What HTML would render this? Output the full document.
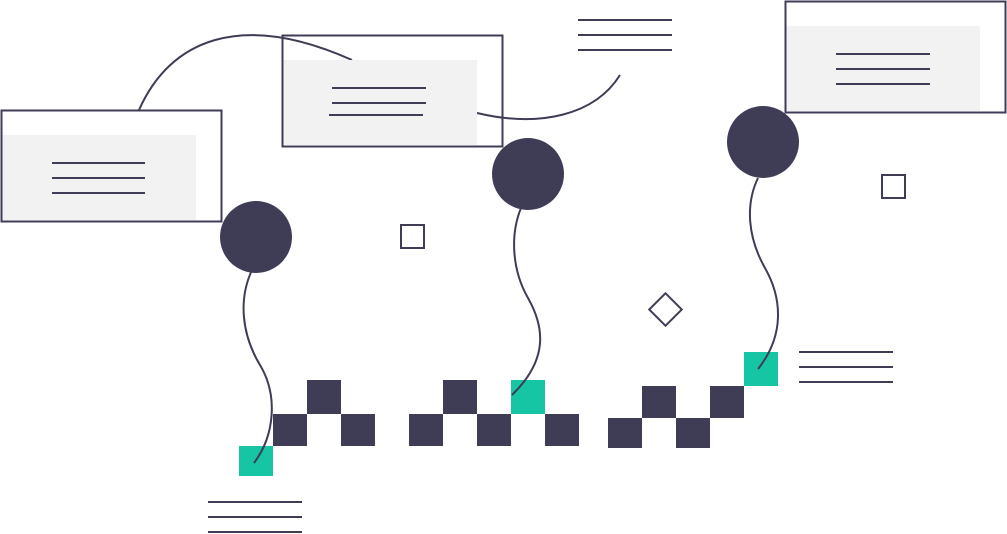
<!DOCTYPE html>
<html><head><meta charset="utf-8"><style>html,body{margin:0;padding:0;background:#fff}svg{display:block}</style></head>
<body>
<svg width="1007" height="534" viewBox="0 0 1007 534" xmlns="http://www.w3.org/2000/svg">
<g fill="none" stroke="#3f3d56" stroke-width="2">
<path d="M139,110 C170,40 240,10 352,60"/>
<path d="M477,113 C540,128 595,115 620,75"/>
</g>
<!-- boxes -->
<rect x="2" y="135" width="194" height="85" fill="#f2f2f2"/>
<rect x="1.5" y="110.5" width="220" height="111" fill="none" stroke="#3f3d56" stroke-width="2"/>
<rect x="283" y="60" width="194" height="85" fill="#f2f2f2"/>
<rect x="282.5" y="35.5" width="220" height="111" fill="none" stroke="#3f3d56" stroke-width="2"/>
<rect x="786" y="26" width="194" height="85" fill="#f2f2f2"/>
<rect x="785.5" y="1.5" width="220" height="111" fill="none" stroke="#3f3d56" stroke-width="2"/>
<g stroke="#3f3d56" stroke-width="2">
<line x1="52" y1="163" x2="145" y2="163"/><line x1="52" y1="178" x2="145" y2="178"/><line x1="52" y1="193" x2="145" y2="193"/>
<line x1="332" y1="88" x2="426" y2="88"/><line x1="332" y1="103" x2="426" y2="103"/><line x1="329" y1="115" x2="423" y2="115"/>
<line x1="836" y1="54" x2="930" y2="54"/><line x1="836" y1="69" x2="930" y2="69"/><line x1="836" y1="84" x2="930" y2="84"/>
<line x1="578" y1="20" x2="672" y2="20"/><line x1="578" y1="35" x2="672" y2="35"/><line x1="578" y1="50" x2="672" y2="50"/>
<line x1="799" y1="352" x2="893" y2="352"/><line x1="799" y1="367" x2="893" y2="367"/><line x1="799" y1="382" x2="893" y2="382"/>
<line x1="208" y1="502" x2="302" y2="502"/><line x1="208" y1="517" x2="302" y2="517"/><line x1="208" y1="532" x2="302" y2="532"/>
</g>
<!-- outline shapes -->
<g fill="none" stroke="#3f3d56" stroke-width="2">
<rect x="401" y="225" width="23" height="23"/>
<rect x="882" y="175" width="23" height="23"/>
<rect x="654" y="298" width="23" height="23" transform="rotate(45 665.5 309.5)"/>
</g>
<!-- squares -->
<g fill="#3f3d56">
<rect x="307" y="380" width="34" height="34"/><rect x="273" y="414" width="34" height="32"/><rect x="341" y="414" width="34" height="32"/>
<rect x="443" y="380" width="34" height="34"/><rect x="409" y="414" width="34" height="32"/><rect x="477" y="414" width="34" height="32"/><rect x="545" y="414" width="34" height="32"/>
<rect x="642" y="386" width="34" height="32"/><rect x="710" y="386" width="34" height="32"/><rect x="608" y="418" width="34" height="30"/><rect x="676" y="418" width="34" height="30"/>
</g>
<g fill="#16c5a4">
<rect x="239" y="446" width="34" height="30"/>
<rect x="511" y="380" width="34" height="34"/>
<rect x="744" y="352" width="34" height="34"/>
</g>
<!-- circles -->
<g fill="#3f3d56">
<circle cx="256" cy="237" r="36"/><circle cx="528" cy="174" r="36"/><circle cx="763" cy="142" r="36"/>
</g>
<g fill="none" stroke="#3f3d56" stroke-width="2">
<path d="M252,270 C238,300 242,335 260,365 C278,395 275,435 254,463"/>
<path d="M521,208 C510,235 512,270 528,298 C545,328 548,360 512,395"/>
<path d="M758,178 C745,205 748,238 765,268 C782,298 785,335 758,369"/>
</g>
</svg>
</body></html>
